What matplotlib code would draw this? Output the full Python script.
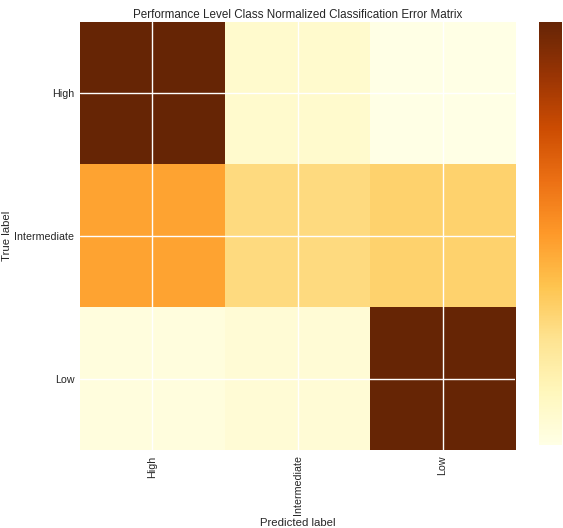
import numpy as np
import matplotlib
matplotlib.use("Agg")
import matplotlib.pyplot as plt

classes = ["High", "Intermediate", "Low"]
# row-normalized confusion matrix (true rows, predicted columns)
cm_high = [0.88, 0.09, 0.03]
cm_intermediate = [0.43, 0.27, 0.30]
cm_low = [0.05, 0.07, 0.88]

cm = np.array([cm_high, cm_intermediate, cm_low])

plt.style.use("seaborn-v0_8")
plt.rcParams["font.family"] = ["Liberation Sans", "DejaVu Sans"]
plt.rcParams["axes.axisbelow"] = True

fig = plt.figure(figsize=(5.63, 5.28), dpi=100)
ax = fig.add_axes([0.142, 0.148, 0.773, 0.810])
cax = fig.add_axes([0.958, 0.157, 0.041, 0.801])

im = ax.imshow(cm, interpolation="nearest", cmap=plt.cm.YlOrBr, aspect="auto")
ax.set_title("Performance Level Class Normalized Classification Error Matrix",
             fontsize=8.4, color="#262626", pad=3)
cb = fig.colorbar(im, cax=cax)
cb.set_ticks([])
cb.outline.set_visible(False)

ticks = np.arange(len(classes))
ax.set_xticks(ticks)
ax.set_xticklabels(classes, rotation=90, fontsize=7.7)
ax.set_yticks(ticks)
ax.set_yticklabels(classes, fontsize=7.7)
ax.tick_params(length=0, pad=4, labelcolor="#262626")
ax.grid(True, color="white", linewidth=1)
for s in ax.spines.values():
    s.set_visible(False)

ax.set_ylabel("True label", fontsize=8.2, labelpad=2)
ax.set_xlabel("Predicted label", fontsize=8.2, labelpad=2)

fig.savefig("out.png", dpi=100)
